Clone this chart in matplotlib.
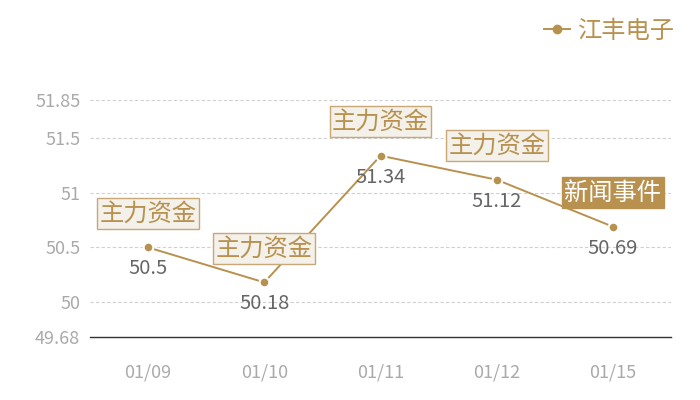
import matplotlib.pyplot as plt

plt.rcParams['font.family'] = ['Noto Sans CJK SC', 'DejaVu Sans']

# data
dates = ["01/09", "01/10", "01/11", "01/12", "01/15"]
prices = [50.5, 50.18, 51.34, 51.12, 50.69]
events = ["主力资金", "主力资金", "主力资金", "主力资金", "新闻事件"]
y_ticks = [49.68, 50, 50.5, 51, 51.5, 51.85]
y_tick_labels = ["49.68", "50", "50.5", "51", "51.5", "51.85"]
series_name = "江丰电子"

gold = "#b8914f"

fig = plt.figure(figsize=(7, 4), dpi=100)
ax = fig.add_axes([0.1286, 0.1575, 0.83, 0.5925])

x = list(range(len(dates)))
ax.plot(x, prices, color=gold, lw=1.4, marker="o", markersize=7,
        markerfacecolor=gold, markeredgecolor="white", markeredgewidth=1.5,
        zorder=3)
# legend handle without the white ring around the marker
ax.plot([], [], color=gold, lw=1.4, marker="o", markersize=6,
        markerfacecolor=gold, markeredgecolor=gold, label=series_name)

ax.set_xlim(-0.5, len(dates) - 0.5)
ax.set_ylim(y_ticks[0], y_ticks[-1])
ax.set_yticks(y_ticks)
ax.set_yticklabels(y_tick_labels)
ax.set_xticks(x)
ax.set_xticklabels(dates)

# dashed gridlines, no grid at the base line
for t in y_ticks[1:]:
    ax.axhline(t, color="#d0d0d0", lw=0.8, ls=(0, (3, 2)), zorder=0)

for side in ["left", "right", "top"]:
    ax.spines[side].set_visible(False)
ax.spines["bottom"].set_color("#333333")
ax.spines["bottom"].set_linewidth(1.0)

ax.tick_params(axis="y", length=0, pad=7, labelsize=13, labelcolor="#aaaaaa")
ax.tick_params(axis="x", length=0, pad=19, labelsize=13, labelcolor="#aaaaaa")

# value labels below points, event boxes above
for i, (p, ev) in enumerate(zip(prices, events)):
    ax.annotate(str(p), (i, p), xytext=(0, -15.5), textcoords="offset points",
                ha="center", va="center", fontsize=14.5, color="#666666")
    if ev == "新闻事件":
        box = dict(boxstyle="square,pad=0.1", fc=gold, ec=gold, lw=1)
        tc = "white"
    else:
        box = dict(boxstyle="square,pad=0.1", fc="#f4f0ea", ec="#c9a878", lw=1)
        tc = gold
    ax.annotate(ev, (i, p), xytext=(0, 24.5), textcoords="offset points",
                ha="center", va="center", fontsize=17.5, color=tc, bbox=box,
                zorder=4)

leg = fig.legend(loc="upper right", bbox_to_anchor=(0.995, 1.01), frameon=False,
                 fontsize=17.5, handlelength=1.1, handletextpad=0.3)
for t in leg.get_texts():
    t.set_color(gold)

fig.savefig("out.png", dpi=100)
